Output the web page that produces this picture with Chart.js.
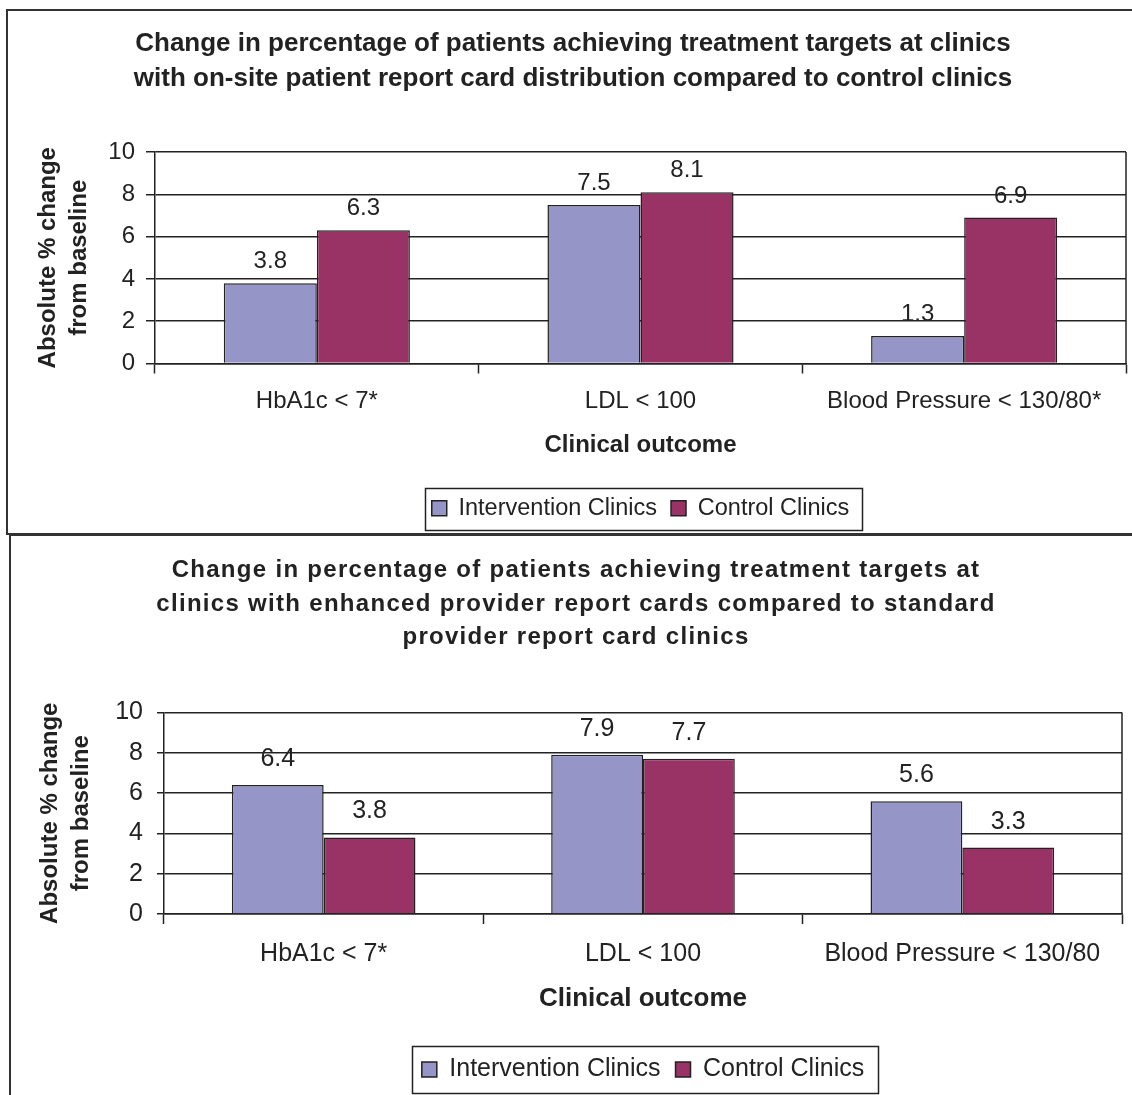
<!DOCTYPE html>
<html>
<head>
<meta charset="utf-8">
<script src="https://cdn.jsdelivr.net/npm/chart.js@4.4.1/dist/chart.umd.min.js"></script>
<style>
  html, body { margin: 0; padding: 0; background: #fff; overflow: hidden; }
  body { width: 1132px; height: 1095px; position: relative; }
  .frame { position: absolute; border: 2px solid #333; box-sizing: border-box; }
  canvas { position: absolute; left: 0; }
</style>
</head>
<body>
<div class="frame" style="left:6px; top:9px; width:1140px; height:526px;"></div>
<div class="frame" style="left:9px; top:534px; width:1140px; height:600px;"></div>
<div style="position:absolute; left:0; top:0; width:1132px; height:535px;"><canvas id="topChart"></canvas></div>
<div style="position:absolute; left:0; top:535px; width:1132px; height:560px;"><canvas id="bottomChart"></canvas></div>
<script>
const topCategories = ["HbA1c < 7*", "LDL < 100", "Blood Pressure < 130/80*"]
const topIntervention = [3.8, 7.5, 1.3]
const topControl = [6.3, 8.1, 6.9]

const bottomCategories = ["HbA1c < 7*", "LDL < 100", "Blood Pressure < 130/80"]
const bottomIntervention = [6.4, 7.9, 5.6]
const bottomControl = [3.8, 7.7, 3.3]

const seriesNames = ["Intervention Clinics", "Control Clinics"]
const yMin = 0
const yMax = 10
const yStep = 2

const FONT = "'Liberation Sans', Arial, sans-serif"
const INK = "#222"
const colors = ["#9595C8", "#993366"]

Chart.defaults.font.family = FONT
Chart.defaults.color = INK

// value labels above bars, drawn before the grid so the grid runs over them like the original
const valueLabels = {
  id: "valueLabels",
  beforeDraw(chart, args, opts) {
    const ctx = chart.ctx
    ctx.save()
    ctx.font = opts.size + "px " + FONT
    ctx.fillStyle = INK
    ctx.textAlign = "center"
    ctx.textBaseline = "alphabetic"
    chart.data.datasets.forEach((ds, i) => {
      chart.getDatasetMeta(i).data.forEach((bar, j) => {
        ctx.fillText(ds.data[j].toFixed(1), bar.x, bar.y - opts.gap)
      })
    })
    ctx.restore()
  },
}

// the lower title is letter-spaced in the original
const titleSpacing = {
  id: "titleSpacing",
  afterLayout(chart, args, opts) {
    const block = chart.titleBlock
    if (!block || block._spaced) return
    const draw = block.draw
    block.draw = function () {
      chart.ctx.letterSpacing = opts.spacing || "0px"
      draw.apply(this, arguments)
      chart.ctx.letterSpacing = "0px"
    }
    block._spaced = true
  },
}

// right edge of the plot area + the box round the legend
const frames = {
  id: "frames",
  afterDraw(chart, args, opts) {
    const ctx = chart.ctx
    const a = chart.chartArea
    ctx.save()
    ctx.strokeStyle = INK
    ctx.lineWidth = 1.5
    ctx.beginPath()
    ctx.moveTo(a.right, a.top)
    ctx.lineTo(a.right, a.bottom)
    ctx.stroke()

    const boxes = chart.legend.legendHitBoxes
    if (boxes && boxes.length) {
      const l = Math.min(...boxes.map((b) => b.left)) - opts.padLeft
      const r = Math.max(...boxes.map((b) => b.left + b.width)) + opts.padRight
      const t = Math.min(...boxes.map((b) => b.top)) - opts.padV
      const btm = Math.max(...boxes.map((b) => b.top + b.height)) + opts.padV
      ctx.lineWidth = 1.5
      ctx.strokeRect(Math.round(l) + 0.5, Math.round(t) + 0.5, Math.round(r - l), Math.round(btm - t))
    }
    ctx.restore()
  },
}

function makeConfig(c) {
  return {
    type: "bar",
    data: {
      labels: c.categories,
      datasets: [
        { label: seriesNames[0], data: c.intervention, backgroundColor: colors[0], borderColor: INK, borderWidth: 1.5 },
        { label: seriesNames[1], data: c.control, backgroundColor: colors[1], borderColor: INK, borderWidth: 1.5 },
      ],
    },
    plugins: [valueLabels, titleSpacing, frames],
    options: {
      responsive: true,
      maintainAspectRatio: false,
      animation: false,
      events: [],
      layout: { padding: c.padding },
      datasets: { bar: { categoryPercentage: 0.575, barPercentage: 1 } },
      scales: {
        x: {
          offset: true,
          grid: { offset: true, drawOnChartArea: false, drawTicks: true, tickLength: 10, tickColor: INK, tickWidth: 1.5, color: INK },
          border: { display: true, color: INK, width: 1.5 },
          ticks: { font: { size: c.tickSize }, color: INK, padding: c.xTickPad, maxRotation: 0, autoSkip: false },
          title: {
            display: true,
            text: "Clinical outcome",
            font: { size: c.axisTitleSize, weight: "bold" },
            color: INK,
            padding: { top: 0, bottom: c.xTitlePad },
          },
          afterFit(scale) { scale.height = c.xHeight },
        },
        y: {
          min: yMin,
          max: yMax,
          ticks: { stepSize: yStep, font: { size: c.tickSize }, color: INK, padding: c.yTickPad },
          grid: { color: INK, lineWidth: 1.5, tickLength: c.yTickLen, tickColor: INK },
          border: { display: true, color: INK, width: 1.5 },
          title: {
            display: true,
            text: ["Absolute % change", "from baseline"],
            font: { size: 24, weight: "bold", lineHeight: 1.29 },
            color: INK,
            padding: { top: c.yTitlePad, bottom: 0 },
          },
          afterFit(scale) { scale.width = c.yWidth },
        },
      },
      plugins: {
        title: {
          display: true,
          text: c.title,
          font: { size: c.titleSize, weight: "bold", lineHeight: c.titleLine },
          color: INK,
          padding: c.titlePad,
        },
        legend: {
          position: "bottom",
          fullSize: false,
          labels: { boxWidth: 15, boxHeight: 15, padding: c.legendPad, font: { size: c.legendSize }, color: INK },
        },
        tooltip: { enabled: false },
        valueLabels: { size: c.tickSize, gap: c.labelGap },
        titleSpacing: { spacing: c.titleSpacing },
        frames: c.legendFrame,
      },
    },
  }
}

new Chart(document.getElementById("topChart"), makeConfig({
  categories: topCategories,
  intervention: topIntervention,
  control: topControl,
  title: [
    "Change in percentage of patients achieving treatment targets at clinics",
    "with on-site patient report card distribution compared to control clinics",
  ],
  padding: { left: 20, right: 6, top: 0, bottom: 5 },
  titleSize: 26, titleLine: 1.327, titlePad: { top: 27, bottom: 56 }, titleSpacing: "0px",
  tickSize: 24, legendSize: 23.5, legendPad: 14,
  axisTitleSize: 24, yTitlePad: 13,
  xHeight: 119, xTickPad: 13, xTitlePad: 23,
  yWidth: 135, yTickPad: 11, yTickLen: 9,
  labelGap: 15,
  legendFrame: { padLeft: 7, padRight: 12, padV: 9 },
}))

new Chart(document.getElementById("bottomChart"), makeConfig({
  categories: bottomCategories,
  intervention: bottomIntervention,
  control: bottomControl,
  title: [
    "Change in percentage of patients achieving treatment targets at",
    "clinics with enhanced provider report cards compared to standard",
    "provider report card clinics",
  ],
  padding: { left: 30, right: 10, top: 0, bottom: 3 },
  titleSize: 24, titleLine: 1.396, titlePad: { top: 19, bottom: 58 }, titleSpacing: "1.3px",
  tickSize: 25, legendSize: 25, legendPad: 15,
  axisTitleSize: 26, yTitlePad: 5,
  xHeight: 128, xTickPad: 15, xTitlePad: 28,
  yWidth: 134, yTickPad: 14, yTickLen: 7,
  labelGap: 19,
  legendFrame: { padLeft: 10, padRight: 14, padV: 11 },
}))
</script>
</body>
</html>
